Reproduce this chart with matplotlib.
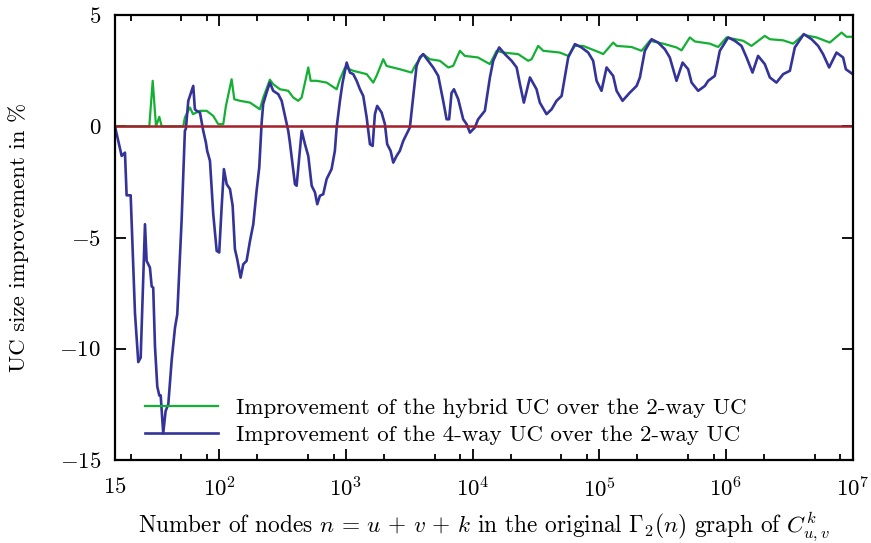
import numpy as np
import matplotlib
matplotlib.use('Agg')
import matplotlib.pyplot as plt

# x values: n = 10**exp
hybrid_exp = [1.176, 1.447, 1.474, 1.500, 1.526, 1.545, 1.715, 1.728, 1.747, 1.768,
              1.792, 1.847, 1.900, 1.952, 1.991, 2.031, 2.052, 2.097, 2.118, 2.163,
              2.242, 2.320, 2.347, 2.399, 2.425, 2.478, 2.544, 2.583, 2.623, 2.650,
              2.676, 2.702, 2.721, 2.768, 2.847, 2.926, 2.952, 2.992, 3.057, 3.163,
              3.215, 3.241, 3.294, 3.320, 3.425, 3.518, 3.544, 3.609, 3.662, 3.741,
              3.807, 3.846, 3.899, 3.938, 4.041, 4.136, 4.189, 4.241, 4.359, 4.438,
              4.465, 4.517, 4.557, 4.688, 4.754, 4.807, 4.872, 5.004, 5.030, 5.109,
              5.136, 5.254, 5.333, 5.399, 5.504, 5.609, 5.649, 5.714, 5.754, 5.872,
              5.938, 6.004, 6.135, 6.201, 6.306, 6.346, 6.451, 6.530, 6.609, 6.714,
              6.819, 6.912, 6.951, 7.0]
hybrid_val = [0, 0, 2.05, 0, 0.43, 0, 0, 0.4, 0.62, 0.85,
              0.55, 0.7, 0.7, 0.47, 0.1, 0.1, 0.92, 2.12, 1.22, 1.15,
              1.07, 0.77, 1.3, 2.1, 1.9, 1.67, 1.6, 1.3, 1.15, 1.3,
              1.97, 2.65, 2.05, 2.05, 1.97, 1.67, 2.12, 2.65, 2.5, 2.35,
              1.97, 2.27, 3.02, 2.72, 2.57, 2.42, 2.72, 3.25, 3.02, 2.95,
              2.65, 2.72, 3.4, 3.17, 3.1, 2.8, 3.4, 3.32, 3.25, 2.95,
              3.02, 3.62, 3.4, 3.32, 3.17, 3.62, 3.62, 3.32, 3.25, 3.77,
              3.62, 3.57, 3.4, 3.85, 3.72, 3.55, 3.42, 4.0, 3.82, 3.72,
              3.57, 4.0, 3.85, 3.62, 4.07, 3.92, 3.87, 3.72, 4.12, 4.0,
              3.77, 4.22, 4.03, 4.03]

fourway_exp = [1.176, 1.229, 1.255, 1.268, 1.300, 1.334, 1.360, 1.379, 1.413, 1.426,
               1.452, 1.466, 1.478, 1.492, 1.510, 1.526, 1.537, 1.557, 1.576, 1.597,
               1.624, 1.650, 1.668, 1.702, 1.728, 1.736, 1.755, 1.794, 1.807, 1.821,
               1.847, 1.873, 1.894, 1.904, 1.926, 1.952, 1.979, 1.999, 2.018, 2.036,
               2.058, 2.084, 2.105, 2.123, 2.141, 2.168, 2.189, 2.215, 2.242, 2.268,
               2.294, 2.315, 2.334, 2.346, 2.373, 2.399, 2.425, 2.465, 2.492, 2.518,
               2.544, 2.557, 2.597, 2.610, 2.650, 2.676, 2.702, 2.729, 2.755, 2.773,
               2.794, 2.820, 2.847, 2.886, 2.912, 2.926, 2.952, 2.973, 3.005, 3.031,
               3.057, 3.084, 3.110, 3.136, 3.163, 3.189, 3.210, 3.228, 3.246, 3.281,
               3.307, 3.325, 3.352, 3.373, 3.399, 3.425, 3.452, 3.478, 3.504, 3.530,
               3.557, 3.583, 3.609, 3.649, 3.688, 3.728, 3.767, 3.794, 3.814, 3.833,
               3.852, 3.886, 3.925, 3.952, 3.978, 4.017, 4.043, 4.096, 4.136, 4.162,
               4.209, 4.254, 4.307, 4.347, 4.373, 4.404, 4.452, 4.504, 4.530, 4.583,
               4.623, 4.662, 4.702, 4.754, 4.807, 4.859, 4.912, 4.951, 4.978, 5.017,
               5.057, 5.109, 5.136, 5.183, 5.241, 5.294, 5.320, 5.359, 5.412, 5.464,
               5.517, 5.556, 5.583, 5.609, 5.657, 5.701, 5.728, 5.780, 5.833, 5.859,
               5.911, 5.951, 6.017, 6.069, 6.122, 6.162, 6.209, 6.253, 6.306, 6.346,
               6.398, 6.451, 6.504, 6.543, 6.614, 6.675, 6.727, 6.766, 6.814, 6.872,
               6.924, 6.946, 7.0]
fourway_val = [0, -1.33, -1.18, -3.1, -3.1, -8.4, -10.6, -10.4, -4.4, -6.05,
               -6.35, -7.2, -7.25, -9.9, -11.7, -12.1, -12.1, -13.8, -12.8, -12.5,
               -10.5, -9.05, -8.45, -4.25, -0.2, -0.1, 1.15, 1.82, 0.77, 0.7,
               0.62, -0.2, -0.73, -1.1, -1.55, -3.95, -5.6, -5.67, -3.65, -1.92,
               -2.6, -2.82, -3.57, -5.52, -5.97, -6.8, -6.2, -6.05, -5.15, -4.4,
               -2.9, -1.85, 0.17, 1.0, 1.52, 1.97, 1.6, 1.45, 1.15, 0.47,
               -0.2, -0.73, -2.6, -2.67, -0.2, -0.8, -1.33, -2.67, -2.97, -3.5,
               -3.12, -3.05, -2.37, -1.92, -1.1, -0.05, 1.15, 1.97, 2.87, 2.42,
               2.35, 2.05, 1.67, 1.37, 0.4, -0.8, -0.88, 0.55, 0.92, 0.62,
               0.1, -0.8, -1.1, -1.63, -1.33, -1.1, -0.65, -0.35, -0.05, 1.3,
               2.72, 3.1, 3.25, 2.95, 2.65, 2.27, 1.15, 0.32, 0.32, 1.5,
               1.67, 1.22, 0.32, 0.1, -0.28, -0.05, 0.32, 0.7, 2.2, 2.95,
               3.55, 3.25, 2.95, 2.65, 1.9, 1.07, 2.2, 1.67, 1.07, 0.55,
               0.77, 1.15, 1.37, 3.1, 3.7, 3.55, 3.32, 2.95, 2.05, 1.6,
               2.65, 2.27, 1.6, 1.15, 1.52, 1.82, 2.2, 3.4, 3.92, 3.77,
               3.47, 3.1, 2.57, 2.05, 2.87, 2.57, 1.97, 1.6, 1.82, 2.05,
               2.27, 3.4, 4.0, 3.85, 3.62, 3.1, 2.42, 3.17, 2.8, 2.2,
               1.97, 2.35, 2.5, 3.55, 4.15, 3.92, 3.62, 3.25, 2.65, 3.32,
               3.1, 2.57, 2.35]

xtick_vals = [15, 1e2, 1e3, 1e4, 1e5, 1e6, 1e7]
xtick_labels = ['$15$', '$10^{2}$', '$10^{3}$', '$10^{4}$', '$10^{5}$', '$10^{6}$', '$10^{7}$']
ytick_vals = [-15, -10, -5, 0, 5]
ytick_labels = ['$-15$', '$-10$', '$-5$', '$0$', '$5$']

FS = 16.5

plt.rcParams['font.family'] = 'cmr10'
plt.rcParams['mathtext.fontset'] = 'cm'
plt.rcParams['axes.unicode_minus'] = False

fig = plt.figure(figsize=(8.71, 5.43), dpi=100)
ax = fig.add_axes([0.132, 0.153, 0.847, 0.819])

n_hyb = 10 ** np.array(hybrid_exp)
n_four = 10 ** np.array(fourway_exp)

ax.plot(n_hyb, hybrid_val, color='#14b034', lw=1.6,
        label='Improvement of the hybrid UC over the 2-way UC')
ax.plot(n_four, fourway_val, color='#333399', lw=1.9,
        label='Improvement of the 4-way UC over the 2-way UC')
ax.axhline(0, color='#a3202a', lw=1.8)

ax.set_xscale('log')
ax.set_xlim(15, 1e7)
ax.set_ylim(-15, 5)

ax.set_xticks(xtick_vals)
ax.set_xticklabels(xtick_labels)
minor = [m * 10 ** k for k in range(1, 7) for m in (2, 5, 8)]
ax.set_xticks([v for v in minor if 15 < v < 1e7], minor=True)
ax.set_xticklabels([], minor=True)
ax.set_yticks(ytick_vals)
ax.set_yticklabels(ytick_labels)

ax.tick_params(which='both', direction='in', top=True, right=True, labelsize=FS, width=1.3)
ax.tick_params(which='major', length=8)
ax.tick_params(axis='x', which='major', pad=12)
ax.tick_params(axis='y', which='major', pad=10)
ax.tick_params(which='minor', length=4)
for s in ax.spines.values():
    s.set_linewidth(1.6)

ax.set_ylabel('UC size improvement in %', fontsize=FS, labelpad=22)
ax.set_xlabel(r'Number of nodes $n\,=\,u\,+\,v\,+\,k$ in the original $\Gamma_2(n)$ graph of $C_{u,v}^{k}$',
              fontsize=16.8, labelpad=7)

ax.legend(loc='lower left', frameon=False, fontsize=FS, handlelength=3.2,
          handletextpad=0.8, borderaxespad=0.25, labelspacing=0.3,
          bbox_to_anchor=(0.02, 0.0))

fig.savefig('out.png', dpi=100)
